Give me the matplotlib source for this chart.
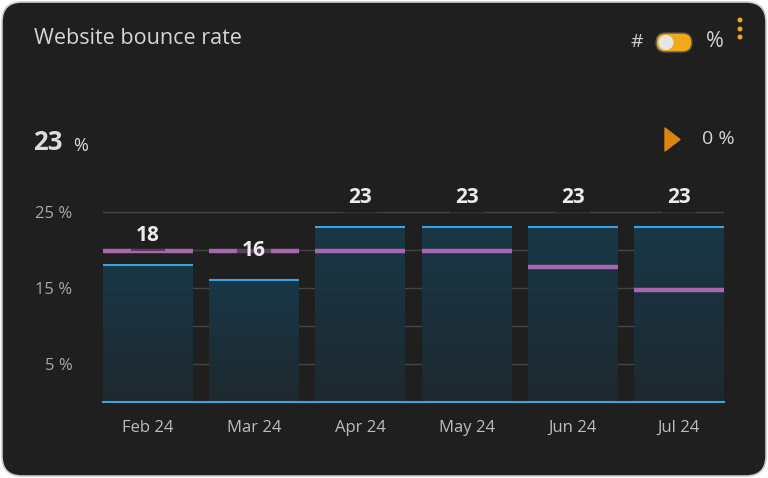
import numpy as np
import matplotlib
matplotlib.use("Agg")
import matplotlib.pyplot as plt
from matplotlib.patches import FancyBboxPatch, Rectangle, Polygon, Ellipse
from matplotlib.colors import LinearSegmentedColormap

months = ["Feb 24", "Mar 24", "Apr 24", "May 24", "Jun 24", "Jul 24"]
bounce = [18, 16, 23, 23, 23, 23]
benchmark = [19.9, 19.9, 19.9, 19.9, 17.7, 14.7]
y_ticks = [5, 15, 25]
grid_levels = [5, 10, 15, 20, 25]

plt.rcParams['font.family'] = ['Open Sans', 'DejaVu Sans']

W, H = 768, 478
fig = plt.figure(figsize=(W / 100, H / 100), dpi=100)
fig.patch.set_facecolor("white")


def fx(x):
    return x / W


def fy(y):
    return 1 - y / H


# card background
card = FancyBboxPatch((2 / W, 2 / H), 764 / W, 474 / H,
                      boxstyle="round,pad=0,rounding_size=0.026",
                      transform=fig.transFigure, facecolor="#1f1f1f",
                      edgecolor="#c9c9c9", linewidth=1.2, mutation_aspect=W / H,
                      zorder=-10)
fig.patches.append(card)

# header texts
fig.text(fx(34), fy(38), "Website bounce rate", color="#d6d6d6", fontsize=15.5, va="center", ha="left")
fig.text(fx(33), fy(143), "23", color="#dcdcdc", fontsize=18.5, fontweight="bold", va="center", ha="left")
fig.text(fx(73), fy(146), "%", color="#dcdcdc", fontsize=13, va="center", ha="left")

# toggle
fig.text(fx(637), fy(42), "#", color="#d0d0d0", fontsize=14, va="center", ha="center")
fig.text(fx(715), fy(41.5), "%", color="#d0d0d0", fontsize=15.5, va="center", ha="center")
pill = FancyBboxPatch((fx(656), fy(52)), (692 - 656) / W, 19 / H,
                      boxstyle="round,pad=0,rounding_size=0.0124",
                      transform=fig.transFigure, facecolor="#f0aa17",
                      edgecolor="#555555", linewidth=1, mutation_aspect=W / H)
fig.patches.append(pill)
knob = Ellipse((fx(666), fy(42.5)), 15 / W, 15 / H,
               transform=fig.transFigure, facecolor="#e6e6e6", edgecolor="none")
fig.patches.append(knob)
for yy in [20, 29, 37]:
    fig.patches.append(Ellipse((fx(740), fy(yy)), 5 / W, 5 / H,
                               transform=fig.transFigure,
                               facecolor="#f0aa17", edgecolor="none"))

# change indicator
tri = Polygon([(fx(665), fy(128)), (fx(680), fy(139.5)), (fx(665), fy(151))],
              closed=True, transform=fig.transFigure, facecolor="#d9860f",
              edgecolor="#d9860f", linewidth=1, joinstyle="round")
fig.patches.append(tri)
fig.text(fx(718), fy(139), "0 %", color="#d6d6d6", fontsize=14, va="center", ha="center")

# chart axes
bw = 0.847
ax = fig.add_axes([fx(103), fy(402), (724 - 103) / W, 228 / H])
ax.set_facecolor("none")

for g in grid_levels:
    ax.axhline(g, color="#444444", lw=1, zorder=1)

grad = np.linspace(0, 1, 256).reshape(-1, 1)
cmap = LinearSegmentedColormap.from_list("bar", ["#1e2a30", "#19394b"])
x = np.arange(len(months))
for i, v in enumerate(bounce):
    rect = Rectangle((x[i] - bw / 2, 0), bw, v, facecolor="none", edgecolor="none")
    ax.add_patch(rect)
    im = ax.imshow(grad, extent=[x[i] - bw / 2, x[i] + bw / 2, 0, v], origin="lower",
                   cmap=cmap, aspect="auto", zorder=2, alpha=0.93)
    im.set_clip_path(rect)
    ax.plot([x[i] - bw / 2, x[i] + bw / 2], [v, v], color="#3da2e0", lw=1.5, zorder=3,
            solid_capstyle="butt")
    ax.plot([x[i] - bw / 2, x[i] + bw / 2], [benchmark[i], benchmark[i]], color="#a767ae",
            lw=3.2, zorder=4, solid_capstyle="butt")

ax.set_aspect("auto")
ax.set_xlim(-bw / 2, len(months) - 1 + bw / 2)
ax.set_ylim(0, 30)
ax.axhline(0, color="#3da2e0", lw=1.5, zorder=5, clip_on=False)

for i, v in enumerate(bounce):
    ax.annotate(str(v), (x[i], v), xytext=(0, 30 * 0.72), textcoords="offset points",
                ha="center", va="center", color="#ececec", fontsize=15, fontweight="bold",
                zorder=6,
                bbox=dict(boxstyle="square,pad=0.25", facecolor="#1f1f1f", edgecolor="none", alpha=0.55))

ax.set_xticks(x)
ax.set_xticklabels(months, color="#bdbdbd", fontsize=12)
ax.set_yticks(y_ticks)
ax.set_yticklabels([f"{t} %" for t in y_ticks], color="#a9a9a9", fontsize=12)
ax.tick_params(length=0)
ax.tick_params(axis="x", pad=13)
ax.tick_params(axis="y", pad=22)
for s in ax.spines.values():
    s.set_visible(False)

fig.savefig("out.png", dpi=100, facecolor=fig.get_facecolor())
